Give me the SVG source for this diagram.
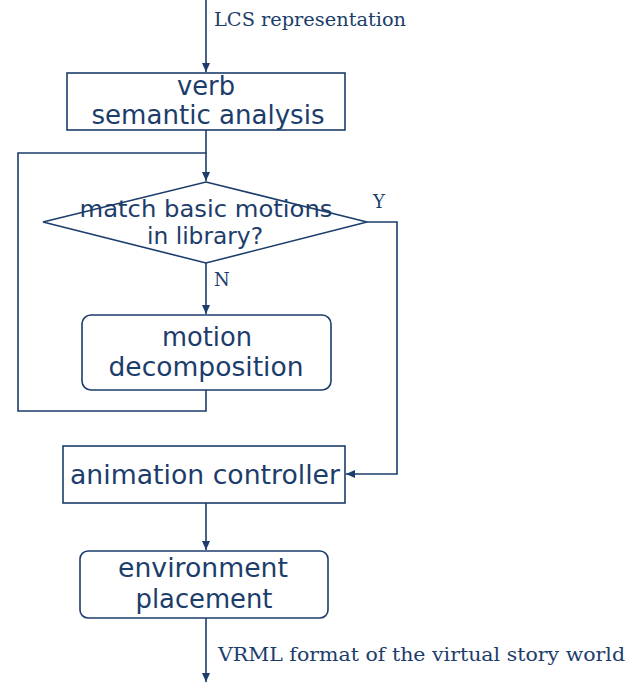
<svg xmlns="http://www.w3.org/2000/svg" width="639" height="683" viewBox="0 0 639 683">
<defs>
<marker id="ah" markerWidth="10" markerHeight="10" refX="9" refY="5" orient="auto" markerUnits="userSpaceOnUse">
<path d="M0,1 L9,5 L0,9 Z" fill="#1c3d6b"/>
</marker>
</defs>
<style>
.ln{fill:none;stroke:#1c3d6b;stroke-width:1.6}
.bx{fill:#fff;stroke:#1c3d6b;stroke-width:1.6}
.t{font-family:"DejaVu Sans","Liberation Sans",sans-serif;font-size:26px;fill:#1c3d6b;text-anchor:middle}
.d{font-size:23px}
.s{font-family:"DejaVu Serif","Liberation Serif",serif;font-size:18px;fill:#1c3d6b}
</style>
<rect width="639" height="683" fill="#fff"/>
<g id="connectors">
<path class="ln" d="M206,0 V72" marker-end="url(#ah)"/>
<path class="ln" d="M206,130 V153 H18 V411 H206 V390"/>
<path class="ln" d="M206,153 V181" marker-end="url(#ah)"/>
<path class="ln" d="M206,263 V314" marker-end="url(#ah)"/>
<path class="ln" d="M367,222 H397 V474 H346" marker-end="url(#ah)"/>
<path class="ln" d="M206,503 V550" marker-end="url(#ah)"/>
<path class="ln" d="M206,618 V682" marker-end="url(#ah)"/>
<text class="s" x="214" y="26" textLength="192" lengthAdjust="spacingAndGlyphs">LCS representation</text>
<text class="s" x="373" y="208">Y</text>
<text class="s" x="214" y="286">N</text>
<text class="s" x="218" y="661" textLength="407" lengthAdjust="spacingAndGlyphs">VRML format of the virtual story world</text>
</g>
<g id="verb-analysis">
<rect class="bx" x="67" y="73" width="278" height="57"/>
<text class="t" x="206" y="95" textLength="58" lengthAdjust="spacingAndGlyphs">verb</text>
<text class="t" x="208" y="124" textLength="233" lengthAdjust="spacingAndGlyphs">semantic analysis</text>
</g>
<g id="match-decision">
<polygon class="bx" points="206,182 367,222 206,263 43,222"/>
<text class="t d" x="206" y="217" textLength="253" lengthAdjust="spacingAndGlyphs">match basic motions</text>
<text class="t d" x="205" y="244" textLength="116" lengthAdjust="spacingAndGlyphs">in library?</text>
</g>
<g id="motion-decomposition">
<rect class="bx" x="82" y="315" width="249" height="75" rx="9"/>
<text class="t" x="207" y="346" textLength="90" lengthAdjust="spacingAndGlyphs">motion</text>
<text class="t" x="206" y="376" textLength="195" lengthAdjust="spacingAndGlyphs">decomposition</text>
</g>
<g id="animation-controller">
<rect class="bx" x="63" y="446" width="282" height="57"/>
<text class="t" x="205" y="484" textLength="270" lengthAdjust="spacingAndGlyphs">animation controller</text>
</g>
<g id="environment-placement">
<rect class="bx" x="80" y="551" width="248" height="67" rx="8"/>
<text class="t" x="203" y="577" textLength="170" lengthAdjust="spacingAndGlyphs">environment</text>
<text class="t" x="204" y="608" textLength="137" lengthAdjust="spacingAndGlyphs">placement</text>
</g>
</svg>
